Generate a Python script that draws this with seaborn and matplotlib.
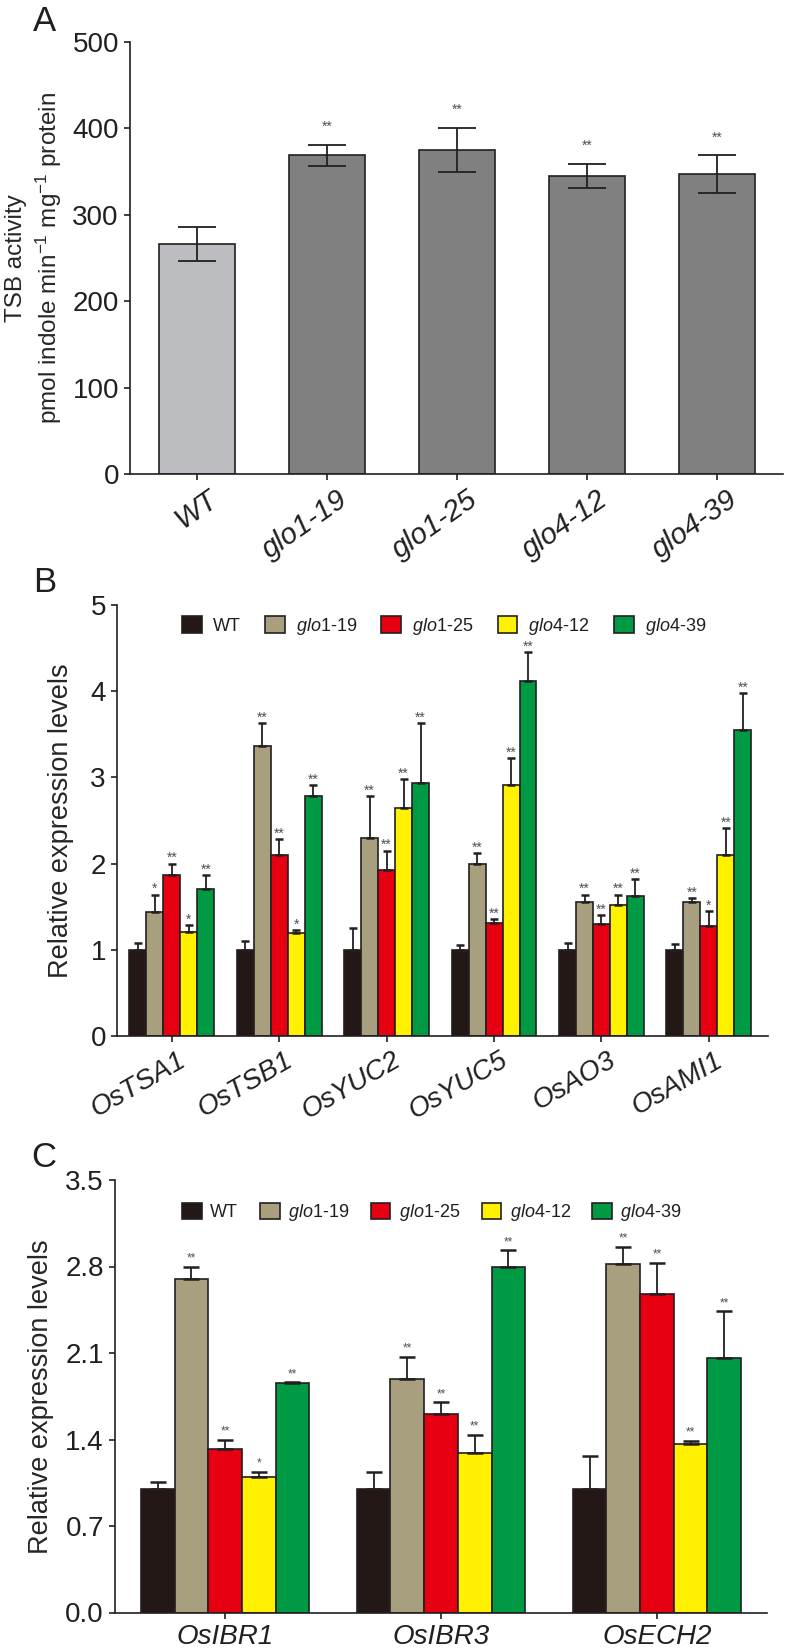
import numpy as np
import pandas as pd
import matplotlib
matplotlib.use('Agg')
import matplotlib.pyplot as plt
import matplotlib.transforms as mtransforms
from matplotlib.patches import Patch
from matplotlib.ticker import FormatStrFormatter
import seaborn as sns

# dati
lines = ['WT', 'glo1-19', 'glo1-25', 'glo4-12', 'glo4-39']
legend_labels = ['WT', r'$\mathit{glo1}$-19', r'$\mathit{glo1}$-25',
                 r'$\mathit{glo4}$-12', r'$\mathit{glo4}$-39']

# pannello A: attivita TSB
tsb_mean = [266, 369, 375, 345, 347]
tsb_err = [20, 12, 26, 14, 22]
tsb_sig = ['', '**', '**', '**', '**']

# pannello B
genes_b = ['OsTSA1', 'OsTSB1', 'OsYUC2', 'OsYUC5', 'OsAO3', 'OsAMI1']
b_wt = [1.0, 1.0, 1.0, 1.0, 1.0, 1.0]
b_wt_err = [0.08, 0.10, 0.25, 0.05, 0.08, 0.07]
b_g119 = [1.44, 3.36, 2.30, 2.00, 1.56, 1.56]
b_g119_err = [0.20, 0.27, 0.48, 0.12, 0.08, 0.04]
b_g125 = [1.87, 2.10, 1.92, 1.31, 1.30, 1.28]
b_g125_err = [0.13, 0.18, 0.23, 0.05, 0.10, 0.17]
b_g412 = [1.21, 1.19, 2.65, 2.91, 1.52, 2.10]
b_g412_err = [0.08, 0.04, 0.33, 0.31, 0.12, 0.31]
b_g439 = [1.70, 2.79, 2.93, 4.12, 1.62, 3.55]
b_g439_err = [0.17, 0.12, 0.70, 0.33, 0.20, 0.43]
b_sig = [['', '', '', '', '', ''],
         ['*', '**', '**', '**', '**', '**'],
         ['**', '**', '**', '**', '**', '*'],
         ['*', '*', '**', '**', '**', '**'],
         ['**', '**', '**', '**', '**', '**']]

# pannello C
genes_c = ['OsIBR1', 'OsIBR3', 'OsECH2']
c_wt = [1.0, 1.0, 1.0]
c_wt_err = [0.06, 0.14, 0.27]
c_g119 = [2.70, 1.89, 2.82]
c_g119_err = [0.10, 0.18, 0.14]
c_g125 = [1.32, 1.61, 2.58]
c_g125_err = [0.08, 0.09, 0.25]
c_g412 = [1.10, 1.29, 1.36]
c_g412_err = [0.04, 0.15, 0.03]
c_g439 = [1.86, 2.80, 2.06]
c_g439_err = [0.005, 0.13, 0.38]
c_sig = [['', '', ''],
         ['**', '**', '**'],
         ['**', '**', '**'],
         ['*', '**', '**'],
         ['**', '**', '**']]

colors = ['#231815', '#a89f7e', '#e60012', '#fff100', '#009944']
dark = '#231f20'
star_col = '#505050'

sns.set_style('ticks')
plt.rcParams['font.family'] = ['Liberation Sans', 'DejaVu Sans']
plt.rcParams['mathtext.fontset'] = 'custom'
plt.rcParams['mathtext.rm'] = 'Liberation Sans'
plt.rcParams['mathtext.it'] = 'Liberation Sans:italic'
plt.rcParams['axes.edgecolor'] = dark
plt.rcParams['axes.linewidth'] = 1.2
plt.rcParams['xtick.color'] = dark
plt.rcParams['ytick.color'] = dark
plt.rcParams['text.color'] = dark

fig = plt.figure(figsize=(7.85, 16.52), dpi=100)


def style_axis(ax, size=20):
    sns.despine(ax=ax)
    ax.tick_params(axis='both', direction='out', length=4.5, width=1.2,
                   labelsize=size, colors=dark)


def shift_xlabels(ax, dx_pt):
    off = mtransforms.ScaledTranslation(dx_pt / 72, 0, fig.dpi_scale_trans)
    for lab in ax.get_xticklabels():
        lab.set_transform(lab.get_transform() + off)


def long_df(genes, means, errs):
    rows = []
    for i, ln in enumerate(lines):
        for j, g in enumerate(genes):
            rows.append({'gene': g, 'line': ln, 'value': means[i][j], 'err': errs[i][j]})
    return pd.DataFrame(rows)


def add_errors(ax, df, genes, sig, capsize, star_size, star_off):
    for i, ln in enumerate(lines):
        cont = ax.containers[i]
        sub = df[df['line'] == ln].set_index('gene').loc[genes]
        for j, bar in enumerate(cont):
            xc = bar.get_x() + bar.get_width() / 2
            top = sub['value'].iloc[j]
            e = sub['err'].iloc[j]
            ax.errorbar(xc, top, yerr=[[0], [e]], fmt='none', ecolor=dark,
                        elinewidth=1.3, capsize=capsize, capthick=1.8, zorder=3)
            if sig[i][j]:
                ax.annotate(sig[i][j], (xc, top + e), xytext=(0, star_off),
                            textcoords='offset points', ha='center', va='baseline',
                            fontsize=star_size, color=star_col)


# ---------------- pannello A ----------------
axA = fig.add_axes([130 / 785, 1 - 474 / 1652, 653 / 785, 432 / 1652])
dfA = pd.DataFrame({'line': lines, 'mean': tsb_mean, 'err': tsb_err})
sns.barplot(data=dfA, x='line', y='mean', hue='line', palette=['#bcbdc0'] + ['#808080'] * 4,
            width=0.59, saturation=1, edgecolor=dark, linewidth=1.2, legend=False, ax=axA)
bars = sorted(axA.patches, key=lambda p: p.get_x())
for k, bar in enumerate(bars):
    xc = bar.get_x() + bar.get_width() / 2
    axA.errorbar(xc, tsb_mean[k], yerr=tsb_err[k], fmt='none', ecolor=dark,
                 elinewidth=1.3, capsize=14, capthick=1.3, zorder=3)
    if tsb_sig[k]:
        axA.annotate(tsb_sig[k], (xc, tsb_mean[k] + tsb_err[k]), xytext=(0, 10),
                     textcoords='offset points', ha='center', va='baseline',
                     fontsize=10, color=star_col)
axA.set_xlim(-0.515, 4.508)
axA.set_ylim(0, 500)
axA.set_yticks(range(0, 501, 100))
axA.set_xticks(range(5))
axA.set_xticklabels(lines, rotation=35, ha='right', rotation_mode='anchor', style='italic')
axA.set_xlabel('')
axA.set_ylabel('TSB activity\npmol indole min$^{-1}$ mg$^{-1}$ protein', fontsize=17.5,
               linespacing=1.3, labelpad=6)
style_axis(axA)
axA.tick_params(axis='x', labelsize=21)
shift_xlabels(axA, 7)

# ---------------- pannello B ----------------
axB = fig.add_axes([117 / 785, 1 - 1036 / 1652, 651 / 785, 431 / 1652])
dfB = long_df(genes_b, [b_wt, b_g119, b_g125, b_g412, b_g439],
              [b_wt_err, b_g119_err, b_g125_err, b_g412_err, b_g439_err])
sns.barplot(data=dfB, x='gene', y='value', hue='line', hue_order=lines, palette=colors,
            width=0.79, saturation=1, errorbar=None, edgecolor=dark, linewidth=1.2,
            legend=False, ax=axB)
add_errors(axB, dfB, genes_b, b_sig, 3, 10, 1)
axB.set_xlim(-0.51, 5.55)
axB.set_ylim(0, 5)
axB.set_yticks(range(0, 6))
axB.set_xticks(range(len(genes_b)))
axB.set_xticklabels(genes_b, rotation=30, ha='right', rotation_mode='anchor', style='italic')
axB.set_xlabel('')
axB.set_ylabel('Relative expression levels', fontsize=19.5, labelpad=12)
style_axis(axB)
axB.tick_params(axis='x', labelsize=20)
shift_xlabels(axB, 4)
handles = [Patch(facecolor=c, edgecolor=dark, linewidth=1.2) for c in colors]
axB.legend(handles, legend_labels, loc='center left', bbox_to_anchor=(0.0998, 0.951),
           ncol=5, frameon=False, borderaxespad=0, borderpad=0, fontsize=13,
           handlelength=1.1, handleheight=1.1, handletextpad=0.6, columnspacing=1.35)

# ---------------- pannello C ----------------
axC = fig.add_axes([115 / 785, 1 - 1612.5 / 1652, 652 / 785, 432.5 / 1652])
dfC = long_df(genes_c, [c_wt, c_g119, c_g125, c_g412, c_g439],
              [c_wt_err, c_g119_err, c_g125_err, c_g412_err, c_g439_err])
sns.barplot(data=dfC, x='gene', y='value', hue='line', hue_order=lines, palette=colors,
            width=0.78, saturation=1, errorbar=None, edgecolor=dark, linewidth=1.2,
            legend=False, ax=axC)
add_errors(axC, dfC, genes_c, c_sig, 6, 8.5, 3.5)
axC.set_xlim(-0.51, 2.51)
axC.set_ylim(0, 3.5)
axC.set_yticks([0, 0.7, 1.4, 2.1, 2.8, 3.5])
axC.yaxis.set_major_formatter(FormatStrFormatter('%.1f'))
axC.set_xticks(range(len(genes_c)))
axC.set_xticklabels(genes_c, style='italic')
axC.set_xlabel('')
axC.set_ylabel('Relative expression levels', fontsize=19.5, labelpad=8)
style_axis(axC)
axC.legend(handles, legend_labels, loc='center left', bbox_to_anchor=(0.103, 0.924),
           ncol=5, frameon=False, borderaxespad=0, borderpad=0, fontsize=13,
           handlelength=1.1, handleheight=1.0, handletextpad=0.45, columnspacing=1.2)

# lettere dei pannelli
fig.text(33 / 785, 1 - 5 / 1652, 'A', fontsize=25, va='top', ha='left')
fig.text(33 / 785, 1 - 566 / 1652, 'B', fontsize=25, va='top', ha='left')
fig.text(31 / 785, 1 - 1141 / 1652, 'C', fontsize=25, va='top', ha='left')

fig.savefig('out.png', dpi=100)
